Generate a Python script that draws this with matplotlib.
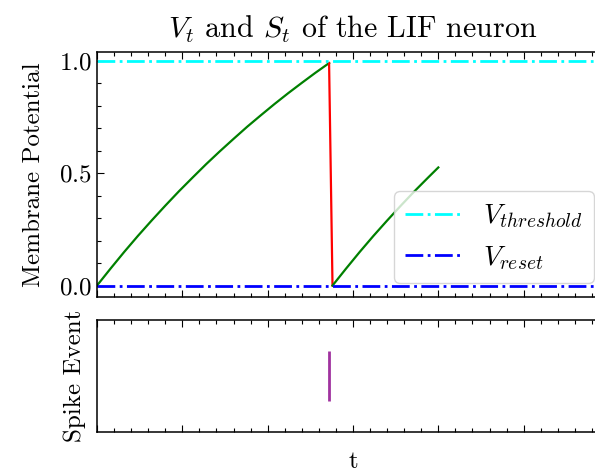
import matplotlib
matplotlib.use("Agg")
import matplotlib.pyplot as plt
from matplotlib.ticker import MultipleLocator, NullFormatter

plt.rcParams["font.family"] = "serif"
plt.rcParams["font.serif"] = ["cmr10", "DejaVu Serif"]
plt.rcParams["mathtext.fontset"] = "cm"
plt.rcParams["axes.unicode_minus"] = False
plt.rcParams["axes.formatter.use_mathtext"] = True
plt.rcParams["font.size"] = 18

# membrane potential (time in steps)
t_rise1 = [0, 4, 8, 12, 16, 20, 24, 28, 32, 36, 40, 44, 48, 52, 56, 60, 64, 68]
v_rise1 = [0.0, 0.076, 0.150, 0.221, 0.289, 0.355, 0.419, 0.480, 0.540, 0.597,
           0.652, 0.706, 0.757, 0.807, 0.855, 0.901, 0.946, 0.989]
t_drop = [68, 69]
v_drop = [0.989, 0.0]
t_rise2 = [69, 73, 77, 81, 85, 89, 93, 97, 100]
v_rise2 = [0.0, 0.076, 0.150, 0.221, 0.289, 0.355, 0.419, 0.480, 0.525]

v_threshold = 1.0
v_reset = 0.0
spike_times = [68]

fig = plt.figure(figsize=(5.95, 4.72), dpi=100)
ax1 = fig.add_axes([0.163, 0.3714, 0.8605, 0.519])
ax2 = fig.add_axes([0.163, 0.0847, 0.8605, 0.2373])

ax1.plot(t_rise1, v_rise1, color="green", lw=1.6)
ax1.plot(t_drop, v_drop, color="red", lw=1.6)
ax1.plot(t_rise2, v_rise2, color="green", lw=1.6)
ax1.axhline(v_threshold, color="cyan", ls="-.", lw=2, label="$V_{threshold}$")
ax1.axhline(v_reset, color="blue", ls="-.", lw=2, label="$V_{reset}$")
ax1.set_xlim(0, 150)
ax1.set_ylim(-0.0495, 1.0395)
ax1.set_yticks([0.0, 0.5, 1.0])
ax1.yaxis.set_minor_locator(MultipleLocator(0.1))
ax1.set_ylabel("Membrane Potential", labelpad=10)
ax1.set_title("$V_t$ and $S_t$ of the LIF neuron", pad=10)
ax1.legend(loc="lower right", bbox_to_anchor=(0.9707, 0.056), borderaxespad=0,
           fontsize=20, handlelength=2.0, fancybox=True, edgecolor="#cccccc",
           framealpha=0.8)

ax2.vlines(spike_times, 0, 1, color="#a0329f", lw=2)
ax2.set_xlim(0, 150)
ax2.set_ylim(-0.62, 1.62)
ax2.set_yticks([])
ax2.set_ylabel("Spike Event", labelpad=8)
ax2.set_xlabel("t", labelpad=10)

for ax in (ax1, ax2):
    ax.xaxis.set_major_locator(MultipleLocator(25))
    ax.xaxis.set_minor_locator(MultipleLocator(5))
    ax.xaxis.set_major_formatter(NullFormatter())
    ax.tick_params(which="both", direction="in", top=True, right=True, width=0.8)
    ax.tick_params(which="major", length=5.2)
    ax.tick_params(which="minor", length=2.8)
    for s in ax.spines.values():
        s.set_linewidth(1.1)
ax2.tick_params(axis="y", which="both", left=False, right=False)

fig.savefig("out.png", dpi=100)
